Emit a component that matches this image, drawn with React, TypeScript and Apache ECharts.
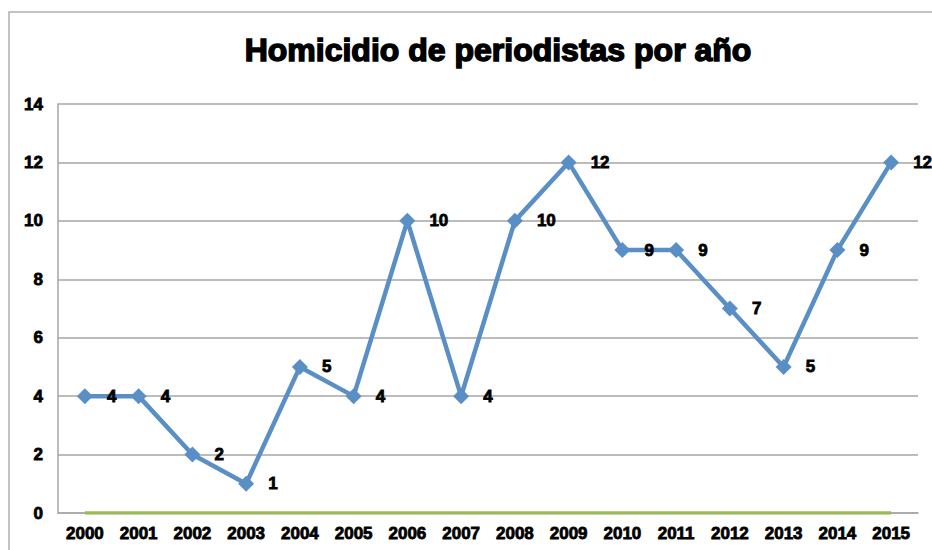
import React, { useEffect, useRef } from "react";
import * as echarts from "echarts";

const years = ["2000","2001","2002","2003","2004","2005","2006","2007","2008","2009","2010","2011","2012","2013","2014","2015"];
const homicidios = [4,4,2,1,5,4,10,4,10,12,9,9,7,5,9,12];
const serie2 = [0,0,0,0,0,0,0,0,0,0,0,0,0,0,0,0];
const titleText = "Homicidio de periodistas por año";

const FONT = "Liberation Sans, Arial, sans-serif";

export default function App() {
  const ref = useRef<HTMLDivElement>(null);
  useEffect(() => {
    if (!ref.current) return;
    const chart = echarts.init(ref.current, null, { renderer: "svg" });
    const heavy = { color: "#000", fontWeight: "bold", fontFamily: FONT, textBorderColor: "#000", textBorderWidth: 0.8 };
    chart.setOption({
      animation: false,
      backgroundColor: "#ffffff",
      title: {
        text: titleText,
        left: 493,
        textAlign: "center",
        top: 29,
        textStyle: { fontFamily: FONT, fontWeight: 900, fontSize: 32, color: "#000", textBorderColor: "#000", textBorderWidth: 1.5 },
      },
      graphic: [
        { type: "rect", shape: { x: 9, y: 12, width: 1000, height: 600 }, style: { fill: "none", stroke: "#b0b0b0", lineWidth: 1.5 }, z: -1 },
      ],
      grid: { left: 58, top: 104, right: 14, bottom: 37 },
      xAxis: {
        type: "category",
        data: years,
        boundaryGap: true,
        axisLine: { show: true, lineStyle: { color: "#a6a6a6", width: 1.5 } },
        axisTick: { show: false },
        axisLabel: { ...heavy, fontSize: 17, margin: 12 },
      },
      yAxis: {
        type: "value",
        min: 0,
        max: 14,
        interval: 2,
        axisLine: { show: true, lineStyle: { color: "#a6a6a6", width: 1.5 } },
        axisTick: { show: false },
        splitLine: { show: true, lineStyle: { color: "#a6a6a6", width: 1.5 } },
        axisLabel: { ...heavy, fontSize: 17, margin: 15 },
      },
      series: [
        {
          type: "line",
          data: serie2,
          symbol: "none",
          lineStyle: { color: "#9bbb59", width: 3.5 },
          z: 2,
        },
        {
          type: "line",
          data: homicidios,
          symbol: "diamond",
          symbolSize: 16,
          itemStyle: { color: "#5a8fc6" },
          lineStyle: { color: "#5a8fc6", width: 4.5 },
          label: {
            show: true,
            position: "right",
            distance: 14,
            ...heavy,
            fontSize: 17,
          },
          z: 3,
        },
      ],
    });
    return () => chart.dispose();
  }, []);
  return <div ref={ref} style={{ position: "fixed", left: 0, top: 0, width: 932, height: 550 }} />;
}
